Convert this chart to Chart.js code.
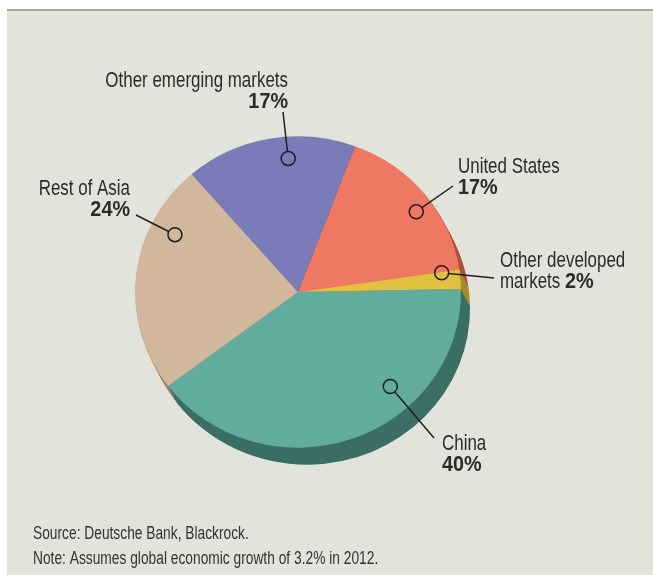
<!DOCTYPE html>
<html>
<head>
<meta charset="utf-8">
<script src="https://cdn.jsdelivr.net/npm/chart.js@4.4.1/dist/chart.umd.min.js"></script>
<style>
  html, body { margin: 0; padding: 0; background: #ffffff; }
  #wrap { width: 653px; height: 580px; }
</style>
</head>
<body>
<div id="wrap"><canvas id="regionPie" width="653" height="580"></canvas></div>
<script>
// Share of global growth by region, 2012 (percent)
const regions = ['United States', 'Other developed markets', 'China', 'Rest of Asia', 'Other emerging markets'];
const shares = [17, 2, 40, 24, 17];
const faceColors = ['#ee7861', '#e3c140', '#62ab9f', '#d1b79c', '#7a7bb9'];
const sideColors = ['#b0503f', '#a58d2e', '#3b6e65', '#9c8670', '#55568a'];

const FONT = '"Liberation Sans", Arial, Helvetica, sans-serif';
const TEXT = '#2b2b2b';
const SQUISH = 0.955;          // pie is a touch wider than tall
const DEPTH = { x: 9, y: 17 };  // thickness of the pie edge
// the original uses a condensed face, so squeeze text horizontally
const NARROW = 0.77, NARROW_BOLD = 0.9;

// callouts: marker in polar terms (deg from north, fraction of radius),
// leader end + text in px relative to pie centre
const callouts = [
  { i: 0, ang: 54.6, r: 0.89, end: [155, -106], align: 'left', tx: 160, lines: [['United States'], [null, '17%']], base: -119 },
  { i: 1, ang: 82, r: 0.89, end: [196, -14], align: 'left', tx: 202, lines: [['Other developed'], ['markets ', '2%']], base: -25 },
  { i: 2, ang: 137, r: 0.83, end: [136, 146], align: 'left', tx: 144, lines: [['China'], [null, '40%']], base: 158 },
  { i: 3, ang: 296, r: 0.84, end: [-162, -77], align: 'right', tx: -168, lines: [['Rest of Asia'], [null, '24%']], base: -97 },
  { i: 4, ang: 356, r: 0.86, end: [-15, -180], align: 'right', tx: -10, lines: [['Other emerging markets'], [null, '17%']], base: -205 }
];

function squeezedText(c, str, x, y, sx) {
  c.save();
  c.translate(x, y);
  c.scale(sx, 1);
  c.fillText(str, 0, 0);
  c.restore();
}

const panelPlugin = {
  id: 'panel',
  beforeDraw(chart) {
    const c = chart.ctx;
    c.save();
    c.fillStyle = '#e2e4db';
    c.fillRect(7, 10, chart.width - 7, 565);
    c.fillStyle = '#a6a89b';
    c.fillRect(7, 9, chart.width - 7, 2);
    c.restore();
  }
};

// squash into an ellipse and draw the darker edge underneath
const depthPlugin = {
  id: 'depth',
  beforeDatasetsDraw(chart) {
    const c = chart.ctx;
    const arcs = chart.getDatasetMeta(0).data;
    const cx = arcs[0].x, cy = arcs[0].y;
    c.save();
    c.translate(cx, cy);
    c.scale(1, SQUISH);
    c.translate(-cx, -cy);
    const steps = 18;
    for (let s = steps; s >= 1; s--) {
      const ox = DEPTH.x * s / steps, oy = DEPTH.y * s / steps / SQUISH;
      arcs.forEach((a, k) => {
        c.beginPath();
        c.moveTo(a.x + ox, a.y + oy);
        c.arc(a.x + ox, a.y + oy, a.outerRadius, a.startAngle, a.endAngle);
        c.closePath();
        c.fillStyle = sideColors[k];
        c.fill();
      });
    }
  },
  afterDatasetsDraw(chart) {
    chart.ctx.restore();
  }
};

const calloutPlugin = {
  id: 'callouts',
  afterDraw(chart) {
    const c = chart.ctx;
    const arcs = chart.getDatasetMeta(0).data;
    const cx = arcs[0].x, cy = arcs[0].y, R = arcs[0].outerRadius;
    c.save();
    c.textAlign = 'left';
    c.textBaseline = 'alphabetic';
    callouts.forEach(co => {
      const t = co.ang * Math.PI / 180;
      const mx = cx + R * co.r * Math.sin(t);
      const my = cy - R * co.r * Math.cos(t) * SQUISH;
      const ex = cx + co.end[0], ey = cy + co.end[1];
      // leader line stops at the marker edge
      const d = Math.hypot(ex - mx, ey - my);
      c.strokeStyle = '#1f1f1f';
      c.lineWidth = 1.5;
      c.beginPath();
      c.moveTo(mx + (ex - mx) * 7 / d, my + (ey - my) * 7 / d);
      c.lineTo(ex, ey);
      c.stroke();
      c.beginPath();
      c.arc(mx, my, 7, 0, Math.PI * 2);
      c.stroke();

      c.fillStyle = TEXT;
      co.lines.forEach((ln, j) => {
        const y = cy + co.base + j * 21;
        const reg = ln[0] || '', bold = ln[1] || '';
        c.font = '22px ' + FONT;
        const wr = c.measureText(reg).width * NARROW;
        c.font = 'bold 22px ' + FONT;
        const wb = c.measureText(bold).width * NARROW_BOLD;
        let x = cx + co.tx;
        if (co.align === 'right') x -= wr + wb;
        c.font = '22px ' + FONT;
        if (reg) squeezedText(c, reg, x, y, NARROW);
        c.font = 'bold 22px ' + FONT;
        if (bold) squeezedText(c, bold, x + wr, y, NARROW_BOLD);
      });
    });
    // footnotes
    c.font = '18px ' + FONT;
    c.fillStyle = '#333333';
    squeezedText(c, 'Source: Deutsche Bank, Blackrock.', 33, 539, 0.765);
    squeezedText(c, 'Note: Assumes global economic growth of 3.2% in 2012.', 33, 564, 0.765);
    c.restore();
  }
};

new Chart(document.getElementById('regionPie'), {
  type: 'pie',
  data: {
    labels: regions,
    datasets: [{
      data: shares,
      backgroundColor: faceColors,
      borderWidth: 0
    }]
  },
  options: {
    responsive: false,
    animation: false,
    rotation: 20.5,
    layout: { padding: { left: 135, right: 192, top: 129, bottom: 125 } },
    plugins: {
      legend: { display: false },
      tooltip: { enabled: false }
    }
  },
  plugins: [panelPlugin, depthPlugin, calloutPlugin]
});
</script>
</body>
</html>
